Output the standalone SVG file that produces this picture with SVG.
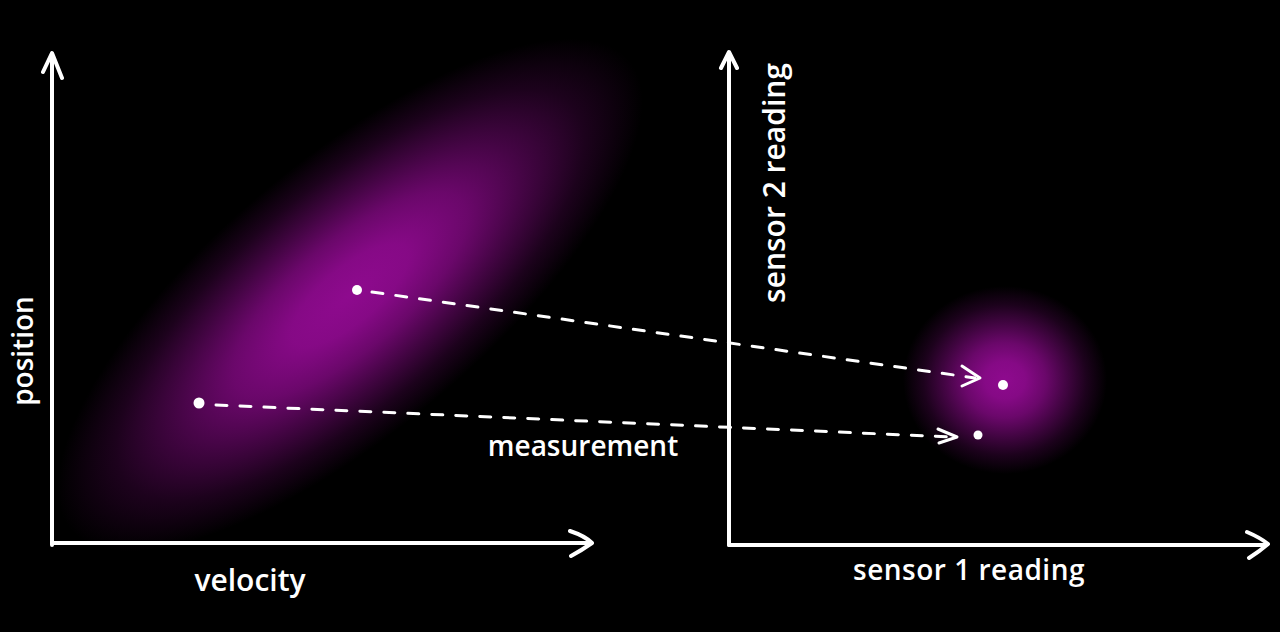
<svg xmlns="http://www.w3.org/2000/svg" width="1280" height="632" viewBox="0 0 1280 632">
<style>
.axis{stroke:#fff;stroke-width:4;fill:none;stroke-linecap:round;stroke-linejoin:round}
.dash{stroke:#fff;stroke-width:3;fill:none;stroke-dasharray:11 13;stroke-linecap:round}
.head{stroke:#fff;stroke-width:3;fill:none;stroke-linecap:round;stroke-linejoin:round}
.lbl{fill:#fff;font-family:"Open Sans","Liberation Sans",sans-serif;font-weight:600}
.pt{fill:#fff}
</style>
<defs>
<radialGradient id="g1">
<stop offset="0" stop-color="#8e0a8e" stop-opacity="1"/>
<stop offset="0.2" stop-color="#8e0a8e" stop-opacity="0.94"/>
<stop offset="0.4" stop-color="#8e0a8e" stop-opacity="0.75"/>
<stop offset="0.6" stop-color="#8e0a8e" stop-opacity="0.47"/>
<stop offset="0.8" stop-color="#8e0a8e" stop-opacity="0.2"/>
<stop offset="1" stop-color="#8e0a8e" stop-opacity="0"/>
</radialGradient>
</defs>
<rect width="1280" height="632" fill="#000"/>
<g id="blobs">
<ellipse cx="350" cy="295" rx="365" ry="135" fill="url(#g1)" transform="rotate(-40 350 295)"/>
<ellipse cx="1005" cy="380" rx="102" ry="94" fill="url(#g1)"/>
</g>
<g id="left-axes">
<path class="axis" d="M52 545 L52 54 M43 72 L52 53 L62 78"/>
<path class="axis" d="M52 543 L590 543 M570 531 Q585 536 592 543 Q582 550 571 556"/>
</g>
<g id="right-axes">
<path class="axis" d="M729 545 L729 53 M721 68 L729 52 L737 68"/>
<path class="axis" d="M729 545 L1266 545 M1247 532 Q1261 538 1268 544 Q1260 551 1249 558"/>
</g>
<g id="connectors">
<path class="dash" d="M372 292 L975 378"/>
<path class="head" d="M962 366 L980 378 L962 386"/>
<path class="dash" d="M216 405 L952 437"/>
<path class="head" d="M938 429 L957 437 L939 443"/>
</g>
<g id="points">
<circle class="pt" cx="357" cy="290" r="5"/>
<circle class="pt" cx="199" cy="403" r="5.5"/>
<circle class="pt" cx="1003" cy="385" r="5"/>
<circle class="pt" cx="978" cy="435" r="4.5"/>
</g>
<g id="labels">
<text class="lbl" font-size="28" transform="translate(33 351) rotate(-90)" text-anchor="middle">position</text>
<text class="lbl" font-size="30" x="250" y="591" text-anchor="middle">velocity</text>
<text class="lbl" font-size="28" x="583" y="456" text-anchor="middle">measurement</text>
<text class="lbl" font-size="30" transform="translate(785 183) rotate(-90)" text-anchor="middle">sensor 2 reading</text>
<text class="lbl" font-size="28" x="969" y="580" text-anchor="middle" letter-spacing="0.5">sensor 1  reading</text>
</g>
</svg>
